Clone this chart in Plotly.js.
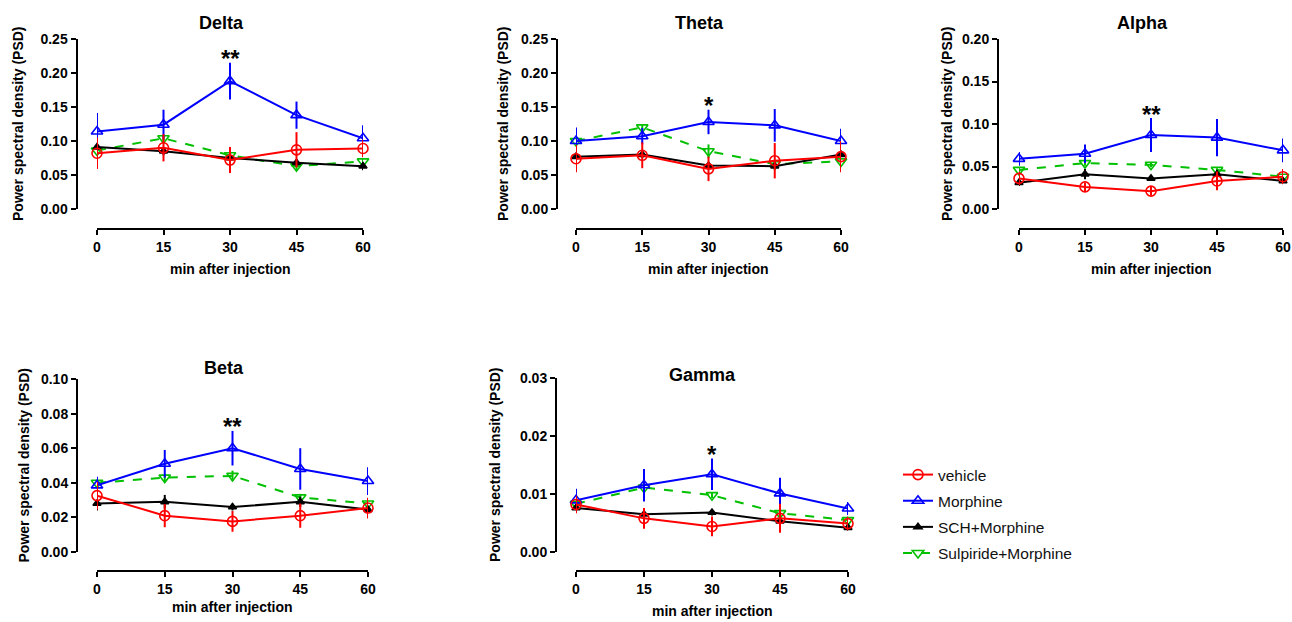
<!DOCTYPE html>
<html>
<head>
<meta charset="utf-8">
<script src="https://cdn.plot.ly/plotly-3.0.1.min.js"></script>
<style>
  html, body { margin: 0; padding: 0; background: #ffffff; }
  #chart { width: 1292px; height: 622px; }
</style>
</head>
<body>
<div id="chart"></div>
<script>
// ---------------- DATA ----------------
const times = [0, 15, 30, 45, 60];
const groups = ['vehicle', 'Morphine', 'SCH+Morphine', 'Sulpiride+Morphine'];
const bands = ['Delta', 'Theta', 'Alpha', 'Beta', 'Gamma'];
const sigLabels = ['**', '*', '**', '**', '*'];

const yTicksDelta = [0, 0.05, 0.10, 0.15, 0.20, 0.25];
const yTicksTheta = [0, 0.05, 0.10, 0.15, 0.20, 0.25];
const yTicksAlpha = [0, 0.05, 0.10, 0.15, 0.20];
const yTicksBeta  = [0, 0.02, 0.04, 0.06, 0.08, 0.10];
const yTicksGamma = [0, 0.01, 0.02, 0.03];

// Delta
const deltaVehicle   = [0.082, 0.090, 0.072, 0.087, 0.089];
const deltaVehicleErr= [0.023, 0.020, 0.019, 0.026, 0.013];
const deltaMorphine  = [0.114, 0.124, 0.188, 0.138, 0.104];
const deltaMorphineErr=[0.027, 0.022, 0.027, 0.020, 0.019];
const deltaSCH       = [0.091, 0.085, 0.075, 0.068, 0.063];
const deltaSCHErr    = [0.006, 0.006, 0.004, 0.005, 0.006];
const deltaSul       = [0.086, 0.104, 0.079, 0.063, 0.070];
const deltaSulErr    = [0.005, 0.005, 0.006, 0.006, 0.005];

// Theta
const thetaVehicle   = [0.074, 0.079, 0.059, 0.071, 0.077];
const thetaVehicleErr= [0.020, 0.019, 0.018, 0.026, 0.023];
const thetaMorphine  = [0.100, 0.107, 0.128, 0.123, 0.100];
const thetaMorphineErr=[0.020, 0.012, 0.018, 0.024, 0.018];
const thetaSCH       = [0.077, 0.080, 0.064, 0.063, 0.080];
const thetaSCHErr    = [0.005, 0.005, 0.004, 0.005, 0.004];
const thetaSul       = [0.100, 0.120, 0.085, 0.066, 0.070];
const thetaSulErr    = [0.004, 0.005, 0.010, 0.004, 0.004];

// Alpha
const alphaVehicle   = [0.036, 0.026, 0.021, 0.033, 0.038];
const alphaVehicleErr= [0.008, 0.005, 0.005, 0.011, 0.009];
const alphaMorphine  = [0.059, 0.065, 0.087, 0.084, 0.069];
const alphaMorphineErr=[0.008, 0.011, 0.020, 0.022, 0.014];
const alphaSCH       = [0.031, 0.041, 0.036, 0.041, 0.033];
const alphaSCHErr    = [0.004, 0.006, 0.003, 0.005, 0.003];
const alphaSul       = [0.046, 0.054, 0.052, 0.046, 0.038];
const alphaSulErr    = [0.003, 0.003, 0.003, 0.002, 0.002];

// Beta
const betaVehicle    = [0.0326, 0.0210, 0.0177, 0.0210, 0.0254];
const betaVehicleErr = [0.0080, 0.0067, 0.0060, 0.0070, 0.0060];
const betaMorphine   = [0.0385, 0.0510, 0.0600, 0.0480, 0.0410];
const betaMorphineErr= [0.0050, 0.0080, 0.0100, 0.0120, 0.0080];
const betaSCH        = [0.0280, 0.0290, 0.0260, 0.0290, 0.0245];
const betaSCHErr     = [0.0040, 0.0040, 0.0020, 0.0030, 0.0030];
const betaSul        = [0.0400, 0.0430, 0.0440, 0.0316, 0.0280];
const betaSulErr     = [0.0020, 0.0020, 0.0030, 0.0020, 0.0020];

// Gamma
const gammaVehicle   = [0.0082, 0.0058, 0.0044, 0.0058, 0.0049];
const gammaVehicleErr= [0.0015, 0.0018, 0.0017, 0.0025, 0.0012];
const gammaMorphine  = [0.0089, 0.0115, 0.0134, 0.0101, 0.0075];
const gammaMorphineErr=[0.0020, 0.0028, 0.0027, 0.0027, 0.0011];
const gammaSCH       = [0.0076, 0.0065, 0.0068, 0.0053, 0.0042];
const gammaSCHErr    = [0.0006, 0.0005, 0.0005, 0.0005, 0.0005];
const gammaSul       = [0.0083, 0.0111, 0.0098, 0.0067, 0.0055];
const gammaSulErr    = [0.0006, 0.0005, 0.0005, 0.0004, 0.0004];

// ---------------- ASSEMBLY ----------------
const bandData = [
  {vals: [deltaVehicle, deltaMorphine, deltaSCH, deltaSul], errs: [deltaVehicleErr, deltaMorphineErr, deltaSCHErr, deltaSulErr], ticks: yTicksDelta},
  {vals: [thetaVehicle, thetaMorphine, thetaSCH, thetaSul], errs: [thetaVehicleErr, thetaMorphineErr, thetaSCHErr, thetaSulErr], ticks: yTicksTheta},
  {vals: [alphaVehicle, alphaMorphine, alphaSCH, alphaSul], errs: [alphaVehicleErr, alphaMorphineErr, alphaSCHErr, alphaSulErr], ticks: yTicksAlpha},
  {vals: [betaVehicle, betaMorphine, betaSCH, betaSul], errs: [betaVehicleErr, betaMorphineErr, betaSCHErr, betaSulErr], ticks: yTicksBeta},
  {vals: [gammaVehicle, gammaMorphine, gammaSCH, gammaSul], errs: [gammaVehicleErr, gammaMorphineErr, gammaSCHErr, gammaSulErr], ticks: yTicksGamma}
];

// layout geometry in pixels (page is 1292 x 622)
const W = 1292, H = 622;
const geom = [
  {axX: 76.5, top: 39,  bot: 209, xL: 97,  xR: 363, axY: 229, tX: 221,  tY: 23,  ytX: 18,  xtY: 269},
  {axX: 557,  top: 39,  bot: 209, xL: 576, xR: 841, axY: 229, tX: 699,  tY: 23,  ytX: 503, xtY: 269},
  {axX: 998,  top: 39,  bot: 209, xL: 1019,xR: 1283,axY: 229, tX: 1142, tY: 23,  ytX: 947, xtY: 269},
  {axX: 77,   top: 379, bot: 552, xL: 97,  xR: 368, axY: 571, tX: 224,  tY: 368, ytX: 23,  xtY: 607},
  {axX: 556,  top: 378, bot: 552, xL: 576, xR: 848, axY: 571, tX: 703,  tY: 375, ytX: 495, xtY: 611}
];

const styles = [
  {color: '#FF0000', symbol: 'circle-open',        size: 10, dash: 'solid'},
  {color: '#0000FF', symbol: 'triangle-up-open',   size: 10, dash: 'solid'},
  {color: '#000000', symbol: 'triangle-up',        size: 7,  dash: 'solid'},
  {color: '#00C000', symbol: 'triangle-down-open', size: 10, dash: 'dash'}
];

const FONT = 'Liberation Sans, Arial, Helvetica, sans-serif';
const traces = [];
const annotations = [];
const layout = {
  width: W, height: H,
  margin: {l: 0, r: 0, t: 0, b: 0},
  paper_bgcolor: '#ffffff', plot_bgcolor: 'rgba(0,0,0,0)',
  font: {family: FONT, color: '#000000'},
  showlegend: true,
  legend: {
    x: 898 / W, xanchor: 'left', y: 1 - 458 / H, yanchor: 'top',
    font: {family: FONT, size: 15.5, color: '#111111'},
    bgcolor: 'rgba(0,0,0,0)', traceorder: 'grouped', tracegroupgap: 3
  },
  annotations: annotations
};

bands.forEach((band, b) => {
  const g = geom[b];
  const sfx = b === 0 ? '' : String(b + 1);
  const xa = 'x' + sfx, ya = 'y' + sfx;
  const ticks = bandData[b].ticks;

  layout['xaxis' + sfx] = {
    domain: [g.xL / W, g.xR / W], anchor: 'free', position: 1 - g.axY / H,
    range: [times[0], times[times.length - 1]], tickvals: times,
    showline: true, linewidth: 2, linecolor: '#000000', mirror: false,
    ticks: 'outside', ticklen: 5, tickwidth: 2, tickcolor: '#000000',
    showgrid: false, zeroline: false, fixedrange: true,
    tickfont: {family: FONT, size: 14, weight: 'bold', color: '#000000'}
  };
  layout['yaxis' + sfx] = {
    domain: [1 - g.bot / H, 1 - g.top / H], anchor: 'free', position: g.axX / W,
    range: [ticks[0], ticks[ticks.length - 1]], tickvals: ticks, tickformat: '.2f',
    showline: true, linewidth: 2, linecolor: '#000000',
    ticks: 'outside', ticklen: 5, tickwidth: 2, tickcolor: '#000000',
    showgrid: false, zeroline: false, fixedrange: true,
    tickfont: {family: FONT, size: 14, weight: 'bold', color: '#000000'}
  };

  // draw order: Sulpiride first, vehicle last (on top)
  for (let k = groups.length - 1; k >= 0; k--) {
    const s = styles[k];
    traces.push({
      type: 'scatter', mode: 'lines+markers', xaxis: xa, yaxis: ya,
      x: times, y: bandData[b].vals[k], name: groups[k],
      legendgroup: groups[k], legendrank: k + 1, showlegend: b === 0, cliponaxis: false,
      line: {color: s.color, width: 2, dash: s.dash},
      marker: {symbol: s.symbol, size: s.size, color: s.color, line: {color: s.color, width: 1.6}},
      error_y: {type: 'data', array: bandData[b].errs[k], visible: true, color: s.color, thickness: 2, width: 0}
    });
  }

  // panel title
  annotations.push({xref: 'paper', yref: 'paper', x: g.tX / W, y: 1 - g.tY / H, xanchor: 'center', yanchor: 'middle',
    text: band, showarrow: false, font: {family: FONT, size: 18, weight: 'bold', color: '#000000'}});
  // y title
  annotations.push({xref: 'paper', yref: 'paper', x: g.ytX / W, y: 1 - ((g.top + g.bot) / 2) / H, xanchor: 'center', yanchor: 'middle',
    text: 'Power spectral density (PSD)', textangle: -90, showarrow: false,
    font: {family: FONT, size: 14, weight: 'bold', color: '#000000'}});
  // x title
  annotations.push({xref: 'paper', yref: 'paper', x: (g.xL + g.xR) / 2 / W, y: 1 - g.xtY / H, xanchor: 'center', yanchor: 'middle',
    text: 'min after injection', showarrow: false,
    font: {family: FONT, size: 14, weight: 'bold', color: '#000000'}});
  // significance marker above Morphine at 30 min
  const mIdx = 2;
  annotations.push({xref: xa, yref: ya, x: times[mIdx],
    y: bandData[b].vals[1][mIdx] + bandData[b].errs[1][mIdx], xanchor: 'center', yanchor: 'middle', yshift: 4,
    text: sigLabels[b], showarrow: false, font: {family: FONT, size: 24, weight: 'bold', color: '#000000'}});
});

Plotly.newPlot('chart', traces, layout, {displayModeBar: false, staticPlot: true});
</script>
</body>
</html>
